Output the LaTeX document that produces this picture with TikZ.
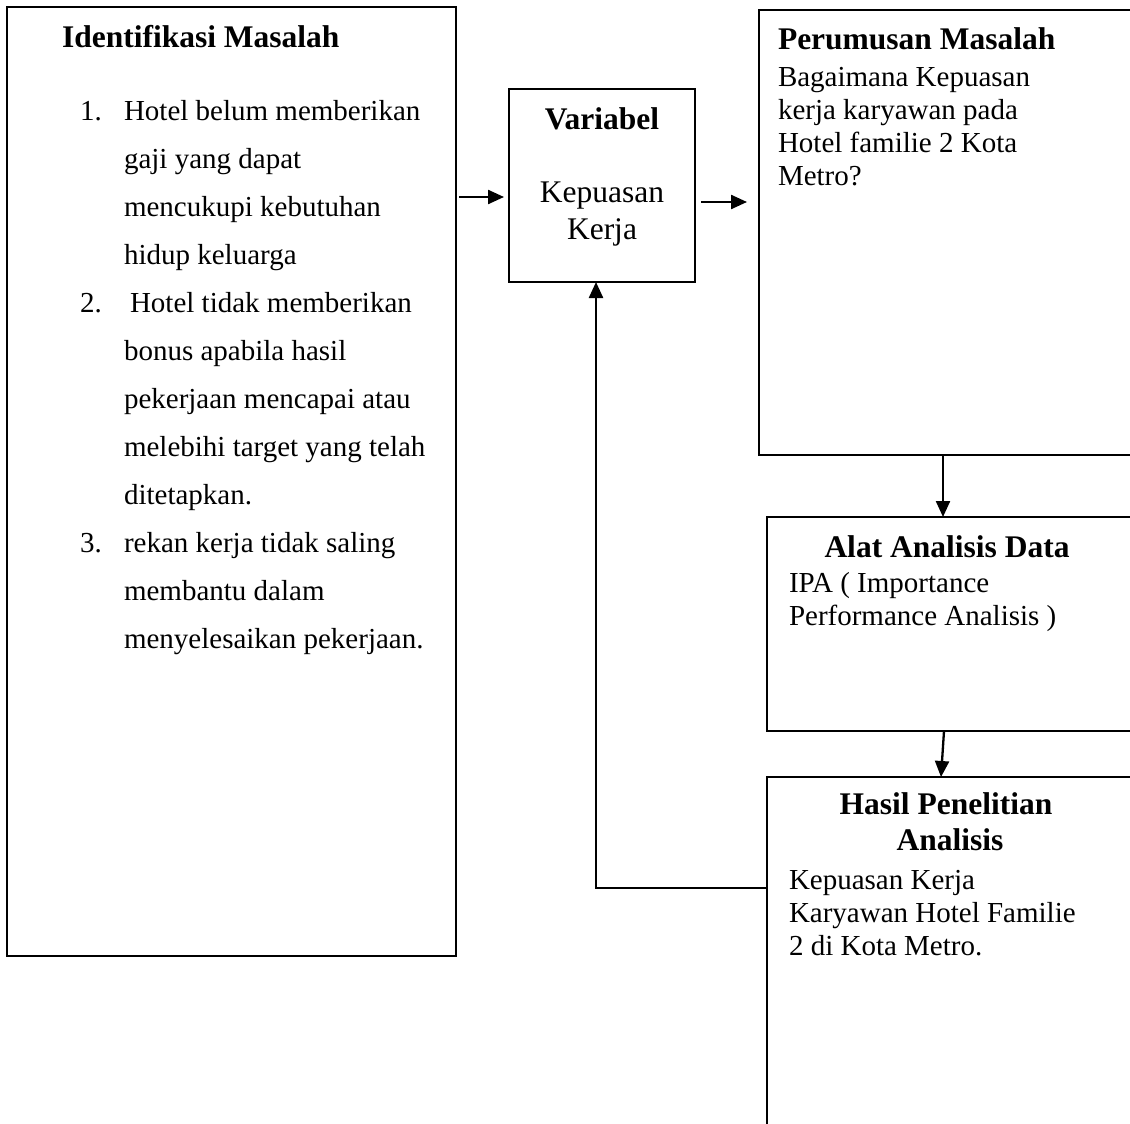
\documentclass[tikz,border=0pt]{standalone}
\usepackage{fontspec}
\setmainfont{Liberation Serif}
\usetikzlibrary{arrows.meta,calc}
\tikzset{
  box/.style={draw, line width=2.3pt, inner sep=0pt, outer sep=0pt, anchor=north west},
  txt/.style={inner sep=0pt, outer sep=0pt, anchor=base west, font=\fontsize{29}{33}\selectfont},
  ttl/.style={inner sep=0pt, outer sep=0pt, anchor=base west, font=\fontsize{31.5}{36}\selectfont\bfseries},
  ctxt/.style={inner sep=0pt, outer sep=0pt, anchor=base, font=\fontsize{31.5}{36}\selectfont},
  arr/.style={line width=2.3pt, -{Triangle[length=16pt,width=14pt]}}
}
\begin{document}
\begin{tikzpicture}[x=1pt,y=-1pt]
\useasboundingbox (0,0) rectangle (1130,1124);
\clip (0,0) rectangle (1130,1124);
% boxes
\node[box, minimum width=449, minimum height=949] (ident) at (7,7) {};
\node[box, minimum width=186, minimum height=193] (var) at (509,89) {};
\node[box, minimum width=400, minimum height=445] (perum) at (759,10) {};
\node[box, minimum width=400, minimum height=214] (alat) at (767,517) {};
\node[box, minimum width=400, minimum height=500] (hasil) at (767,777) {};
% Identifikasi Masalah
\node[ttl] (t1) at (62,48) {Identifikasi Masalah};
\node[txt] (n1) at (80,120) {1.};
\node[txt] (l1) at (124,120) {Hotel belum memberikan};
\node[txt] (l2) at (124,168) {gaji yang dapat};
\node[txt] (l3) at (124,216) {mencukupi kebutuhan};
\node[txt] (l4) at (124,264) {hidup keluarga};
\node[txt] (n2) at (80,312) {2.};
\node[txt] (l5) at (130,312) {Hotel tidak memberikan};
\node[txt] (l6) at (124,360) {bonus apabila hasil};
\node[txt] (l7) at (124,408) {pekerjaan mencapai atau};
\node[txt] (l8) at (124,456) {melebihi target yang telah};
\node[txt] (l9) at (124,504) {ditetapkan.};
\node[txt] (n3) at (80,552) {3.};
\node[txt] (l10) at (124,552) {rekan kerja tidak saling};
\node[txt] (l11) at (124,600) {membantu dalam};
\node[txt] (l12) at (124,648) {menyelesaikan pekerjaan.};
% Variabel
\node[ctxt, font=\fontsize{31.5}{36}\selectfont\bfseries] (vt) at (602,129) {Variabel};
\node[ctxt] (v1) at (602,202) {Kepuasan};
\node[ctxt] (v2) at (602,239) {Kerja};
% Perumusan
\node[ttl] (pt) at (778,50) {Perumusan Masalah};
\node[txt] (p1) at (778,86) {Bagaimana Kepuasan};
\node[txt] (p2) at (778,119) {kerja karyawan pada};
\node[txt] (p3) at (778,152) {Hotel familie 2 Kota};
\node[txt] (p4) at (778,185) {Metro?};
% Alat
\node[ttl, anchor=base] (at) at (947,557) {Alat Analisis Data};
\node[txt] (a1) at (789,592) {IPA ( Importance};
\node[txt] (a2) at (789,625) {Performance Analisis )};
% Hasil
\node[ttl, anchor=base] (ht1) at (946,814) {Hasil Penelitian};
\node[ttl, anchor=base] (ht2) at (950,850) {Analisis};
\node[txt] (h1) at (789,889) {Kepuasan Kerja};
\node[txt] (h2) at (789,922) {Karyawan Hotel Familie};
\node[txt] (h3) at (789,955) {2 di Kota Metro.};
% connectors
\draw[arr] ([xshift=3pt]ident.east |- 0,197) -- ([xshift=-5pt]var.west |- 0,197);
\draw[arr] ([xshift=6pt]var.east |- 0,202) -- ([xshift=-12pt]perum.west |- 0,202);
\draw[arr] (perum.south -| 943,0) ++(0,1) -- (alat.north -| 943,0);
\draw[arr] (alat.south -| 944,0) -- (hasil.north -| 941,0);
\coordinate (fb) at (596,888);
\draw[arr] (hasil.west |- fb) -- (fb) -- (var.south -| fb);
\end{tikzpicture}
\end{document}
